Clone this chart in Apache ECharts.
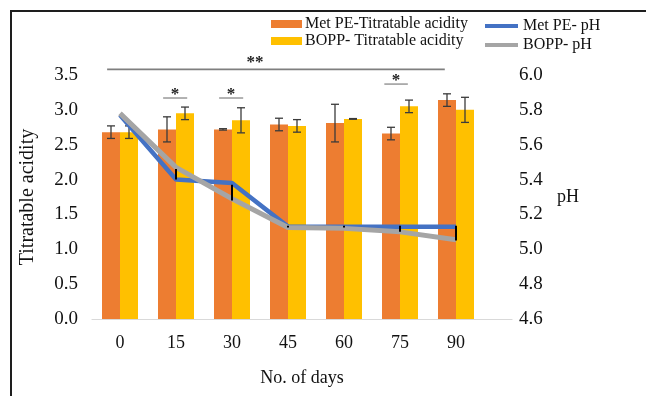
<!DOCTYPE html>
<html>
<head>
<meta charset="utf-8">
<script src="https://cdn.jsdelivr.net/npm/echarts@6/dist/echarts.min.js"></script>
<style>
  html, body { margin: 0; padding: 0; background: #fff; }
  #frame { position: absolute; left: 10px; top: 10px; width: 640px; height: 390px;
           border-top: 2px solid #1e1e1e; border-left: 2px solid #1e1e1e; box-sizing: border-box; }
  #chart { position: absolute; left: 0; top: 0; width: 646px; height: 396px; }
</style>
</head>
<body>
<div id="frame"></div>
<div id="chart"></div>
<script>
// ---- data ----
const days = ['0', '15', '30', '45', '60', '75', '90'];
const metPeTA = [2.68, 2.72, 2.72, 2.79, 2.81, 2.66, 3.14];
const metPeTAErr = [0.09, 0.18, 0.01, 0.09, 0.27, 0.09, 0.09];
const boppTA = [2.68, 2.95, 2.85, 2.77, 2.87, 3.05, 3.00];
const boppTAErr = [0.09, 0.09, 0.18, 0.09, 0.005, 0.09, 0.18];
const metPePH = [5.77, 5.40, 5.38, 5.13, 5.13, 5.13, 5.13];
const boppPH = [5.78, 5.47, 5.29, 5.125, 5.12, 5.10, 5.055];
const phErrLow = [null, 5.40, 5.28, 5.125, 5.125, 5.10, 5.05];
const phErrHigh = [null, 5.46, 5.37, 5.135, 5.135, 5.135, 5.135];
const taTicks = [0, 3.5, 0.5];      // min, max, interval
const phTicks = [4.6, 6.0, 0.2];
// significance annotations (x in category-index units, level in titratable acidity units)
const sigStart = [-0.23, 0.77, 1.77, 4.72];
const sigEnd = [5.8, 1.2, 2.2, 5.14];
const sigLevel = [3.58, 3.17, 3.17, 3.37];
const sigTextX = [2.41, 0.98, 1.98, 4.93];
const sigText = ['**', '*', '*', '*'];

const FONT = '"Liberation Serif", "Times New Roman", serif';
const C_OR = '#ED7D31', C_YE = '#FFC000', C_BL = '#4472C4', C_GR = '#A5A5A5';
const BAR_W = 18;

const chart = echarts.init(document.getElementById('chart'), null, { renderer: 'canvas' });

function barErrRender(offset) {
  return function (params, api) {
    const i = api.value(0), v = api.value(1), e = api.value(2);
    const top = api.coord([i, v + e]);
    const bot = api.coord([i, v - e]);
    const x = top[0] + offset;
    const st = { stroke: '#3b3b3b', lineWidth: 1.3 };
    return { type: 'group', children: [
      { type: 'line', shape: { x1: x, y1: top[1], x2: x, y2: bot[1] }, style: st },
      { type: 'line', shape: { x1: x - 4, y1: top[1], x2: x + 4, y2: top[1] }, style: st },
      { type: 'line', shape: { x1: x - 4, y1: bot[1], x2: x + 4, y2: bot[1] }, style: st }
    ]};
  };
}

const option = {
  animation: false,
  backgroundColor: 'transparent',
  textStyle: { fontFamily: FONT },
  grid: { left: 92, right: 134, top: 75, bottom: 77 },
  legend: [
    {
      data: ['Met PE-Titratable acidity', 'BOPP- Titratable acidity'],
      left: 266, top: 11, orient: 'vertical',
      itemWidth: 31, itemHeight: 8, itemGap: 1, icon: 'rect',
      textStyle: { fontFamily: FONT, fontSize: 16, color: '#111', padding: [0, 0, 0, -2] }
    },
    {
      data: ['Met PE- pH', 'BOPP- pH'],
      left: 480, top: 13, orient: 'vertical',
      itemWidth: 33, itemHeight: 4, itemGap: 3, icon: 'rect',
      textStyle: { fontFamily: FONT, fontSize: 16, color: '#111' }
    }
  ],
  xAxis: {
    type: 'value', min: -0.5, max: 7,
    name: 'No. of days', nameLocation: 'middle', nameGap: 50,
    nameTextStyle: { fontFamily: FONT, fontSize: 18, color: '#111' },
    axisLine: { show: true, onZero: false, lineStyle: { color: '#d9d9d9', width: 1.2 } },
    axisTick: { show: false },
    splitLine: { show: false },
    axisLabel: {
      customValues: days.map((d, i) => i),
      formatter: v => days[Math.round(v)] ?? '',
      fontFamily: FONT, fontSize: 18, color: '#111', margin: 15
    }
  },
  yAxis: [
    {
      type: 'value', min: taTicks[0], max: taTicks[1], interval: taTicks[2],
      name: 'Titratable acidity', nameLocation: 'middle', nameGap: 54, nameRotate: 90,
      nameTextStyle: { fontFamily: FONT, fontSize: 20, color: '#111' },
      axisLine: { show: false }, axisTick: { show: false }, splitLine: { show: false },
      axisLabel: { formatter: v => v.toFixed(1), fontFamily: FONT, fontSize: 19, color: '#111', margin: 14 }
    },
    {
      type: 'value', min: phTicks[0], max: phTicks[1], interval: phTicks[2], position: 'right',
      name: 'pH', nameLocation: 'middle', nameGap: 45, nameRotate: 0,
      nameTextStyle: { fontFamily: FONT, fontSize: 18, color: '#111', padding: [0, 0, 10, 0] },
      axisLine: { show: false }, axisTick: { show: false }, splitLine: { show: false },
      axisLabel: { formatter: v => v.toFixed(1), fontFamily: FONT, fontSize: 19, color: '#111', margin: 7 }
    }
  ],
  series: [
    {
      name: 'Met PE-Titratable acidity', type: 'bar', yAxisIndex: 0,
      barWidth: BAR_W, barGap: '0%', itemStyle: { color: C_OR },
      data: metPeTA.map((v, i) => [i, v]), z: 2
    },
    {
      name: 'BOPP- Titratable acidity', type: 'bar', yAxisIndex: 0,
      barWidth: BAR_W, barGap: '0%', itemStyle: { color: C_YE },
      data: boppTA.map((v, i) => [i, v]), z: 2
    },
    {
      type: 'custom', yAxisIndex: 0, z: 3, silent: true,
      renderItem: barErrRender(-BAR_W / 2),
      data: metPeTA.map((v, i) => [i, v, metPeTAErr[i]])
    },
    {
      type: 'custom', yAxisIndex: 0, z: 3, silent: true,
      renderItem: barErrRender(BAR_W / 2),
      data: boppTA.map((v, i) => [i, v, boppTAErr[i]])
    },
    {
      name: 'Met PE- pH', type: 'line', yAxisIndex: 1, symbol: 'none', z: 5,
      lineStyle: { color: C_BL, width: 4.5 }, itemStyle: { color: C_BL },
      data: metPePH.map((v, i) => [i, v])
    },
    {
      name: 'BOPP- pH', type: 'line', yAxisIndex: 1, symbol: 'none', z: 6,
      lineStyle: { color: C_GR, width: 5 }, itemStyle: { color: C_GR },
      data: boppPH.map((v, i) => [i, v])
    },
    {
      type: 'custom', yAxisIndex: 1, z: 8, silent: true,
      renderItem: function (params, api) {
        const i = api.value(0), lo = api.value(1), hi = api.value(2);
        if (isNaN(lo) || isNaN(hi)) return null;
        const a = api.coord([i, hi]), b = api.coord([i, lo]);
        return { type: 'line', shape: { x1: a[0], y1: a[1], x2: b[0], y2: Math.max(b[1], a[1] + 1.5) },
                 style: { stroke: '#000', lineWidth: 2 } };
      },
      data: days.map((d, i) => [i, phErrLow[i], phErrHigh[i]])
    },
    {
      type: 'custom', yAxisIndex: 0, z: 9, silent: true, clip: false,
      renderItem: function (params, api) {
        const s = api.value(0), e = api.value(1), lv = api.value(2), tx = api.value(3);
        const idx = params.dataIndex;
        const p1 = api.coord([s, lv]), p2 = api.coord([e, lv]);
        const pt = api.coord([tx, lv]);
        const dbl = sigText[idx].length > 1;
        return { type: 'group', children: [
          { type: 'line', shape: { x1: p1[0], y1: p1[1], x2: p2[0], y2: p2[1] },
            style: { stroke: '#7f7f7f', lineWidth: dbl ? 1.6 : 1.2 } },
          { type: 'text', x: pt[0], y: p1[1] + (dbl ? 2 : 5),
            style: { text: sigText[idx], font: 'bold 17px ' + FONT, fill: '#222',
                     textAlign: 'center', textVerticalAlign: 'bottom' } }
        ]};
      },
      data: sigStart.map((s, i) => [s, sigEnd[i], sigLevel[i], sigTextX[i]])
    }
  ]
};
chart.setOption(option);
</script>
</body>
</html>
